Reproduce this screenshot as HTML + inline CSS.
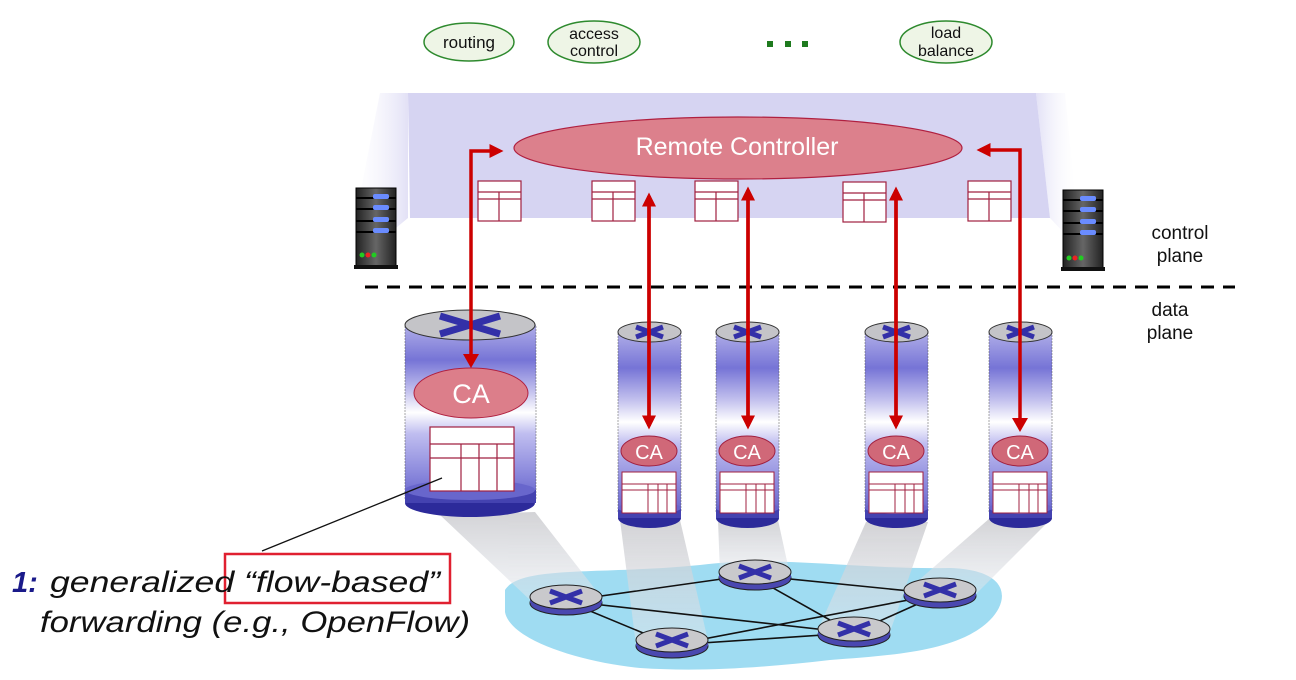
<!DOCTYPE html>
<html><head><meta charset="utf-8"><style>
html,body{margin:0;padding:0;background:#fff;}
svg{display:block;font-family:"Liberation Sans",Arial,sans-serif;}
</style></head><body>
<svg width="1296" height="680" viewBox="0 0 1296 680" xmlns="http://www.w3.org/2000/svg">
<defs>
<linearGradient id="cyl" x1="0" y1="0" x2="0" y2="1">
<stop offset="0" stop-color="#b0aee8"/>
<stop offset="0.2" stop-color="#7674d6"/>
<stop offset="0.38" stop-color="#c4c2ee"/>
<stop offset="0.5" stop-color="#ffffff"/>
<stop offset="0.62" stop-color="#c0bef0"/>
<stop offset="0.85" stop-color="#8a88dc"/>
<stop offset="1" stop-color="#6664cc"/>
</linearGradient>
<linearGradient id="fadeL" x1="1" y1="0" x2="0" y2="0">
<stop offset="0" stop-color="#d6d4f2"/>
<stop offset="1" stop-color="#ffffff" stop-opacity="0"/>
</linearGradient>
<linearGradient id="fadeR" x1="0" y1="0" x2="1" y2="0">
<stop offset="0" stop-color="#d6d4f2"/>
<stop offset="1" stop-color="#ffffff" stop-opacity="0"/>
</linearGradient>
<linearGradient id="beam" x1="0" y1="0" x2="0" y2="1">
<stop offset="0" stop-color="#c8c8cc"/>
<stop offset="1" stop-color="#e4e8ee" stop-opacity="0.6"/>
</linearGradient>
<linearGradient id="srv" x1="0" y1="0" x2="1" y2="0">
<stop offset="0" stop-color="#222"/>
<stop offset="0.5" stop-color="#666"/>
<stop offset="1" stop-color="#222"/>
</linearGradient>
<g id="disc">
<ellipse cx="0" cy="6" rx="36" ry="12" fill="#4a48b0" stroke="#222" stroke-width="1"/>
<rect x="-36" y="0" width="72" height="6" fill="#4a48b0"/>
<ellipse cx="0" cy="0" rx="36" ry="12" fill="#c9c9cc" stroke="#222" stroke-width="1"/>
<path d="M-16,-6 L16,6 M-16,6 L16,-6" stroke="#3330a8" stroke-width="5"/>
</g>
<g id="tab">
<rect x="0" y="0" width="43" height="40" fill="#fff" stroke="#a02040" stroke-width="1.2"/>
<path d="M0,11 H43 M0,18 H43 M21,11 V40" stroke="#a02040" stroke-width="1.2"/>
</g>
<marker id="ah" markerWidth="4" markerHeight="4" refX="3" refY="2" orient="auto" markerUnits="strokeWidth">
<path d="M0,0 L4,2 L0,4 z" fill="#cc0000"/>
</marker>
</defs>

<g fill="#eef5e6" stroke="#2e8a2e" stroke-width="1.5">
<ellipse cx="469" cy="42" rx="45" ry="19"/>
<ellipse cx="594" cy="42" rx="46" ry="21"/>
<ellipse cx="946" cy="42" rx="46" ry="21"/>
</g>
<g font-size="17" fill="#111" text-anchor="middle">
<text x="469" y="48">routing</text>
<text x="594" y="39" font-size="16">access</text>
<text x="594" y="56" font-size="16">control</text>
<text x="946" y="38" font-size="16">load</text>
<text x="946" y="56" font-size="16">balance</text>
</g>
<g fill="#1e7a1e"><rect x="767" y="41" width="6" height="6"/><rect x="785" y="41" width="6" height="6"/><rect x="802" y="41" width="6" height="6"/></g>

<polygon points="408,93 408,218 345,270 380,93" fill="url(#fadeL)" opacity="0.7"/>
<polygon points="1036,93 1050,218 1080,250 1065,93" fill="url(#fadeR)" opacity="0.7"/>
<polygon points="408,93 1036,93 1050,218 410,218" fill="#d6d4f2"/>

<g>
<rect x="356" y="188" width="40" height="78" fill="url(#srv)" stroke="#000"/>
<rect x="354" y="265" width="44" height="4" fill="#111"/>
<g fill="#000"><rect x="356" y="197" width="40" height="2"/><rect x="356" y="208" width="40" height="2"/><rect x="356" y="220" width="40" height="2"/><rect x="356" y="231" width="40" height="2"/></g>
<g fill="#6a8cff"><rect x="373" y="194" width="16" height="5" rx="2"/><rect x="373" y="205" width="16" height="5" rx="2"/><rect x="373" y="217" width="16" height="5" rx="2"/><rect x="373" y="228" width="16" height="5" rx="2"/></g>
<circle cx="362" cy="255" r="2.5" fill="#2c2"/><circle cx="368" cy="255" r="2.5" fill="#e22"/><circle cx="374" cy="255" r="2.5" fill="#2c2"/>
</g>
<g>
<rect x="1063" y="190" width="40" height="78" fill="url(#srv)" stroke="#000"/>
<rect x="1061" y="267" width="44" height="4" fill="#111"/>
<g fill="#000"><rect x="1063" y="199" width="40" height="2"/><rect x="1063" y="210" width="40" height="2"/><rect x="1063" y="222" width="40" height="2"/><rect x="1063" y="233" width="40" height="2"/></g>
<g fill="#6a8cff"><rect x="1080" y="196" width="16" height="5" rx="2"/><rect x="1080" y="207" width="16" height="5" rx="2"/><rect x="1080" y="219" width="16" height="5" rx="2"/><rect x="1080" y="230" width="16" height="5" rx="2"/></g>
<circle cx="1069" cy="258" r="2.5" fill="#2c2"/><circle cx="1075" cy="258" r="2.5" fill="#e22"/><circle cx="1081" cy="258" r="2.5" fill="#2c2"/>
</g>

<ellipse cx="738" cy="148" rx="224" ry="31" fill="#dc808c" stroke="#b02040" stroke-width="1.2"/>
<text x="737" y="155" font-size="25" fill="#fff" text-anchor="middle">Remote Controller</text>

<use href="#tab" x="478" y="181"/>
<use href="#tab" x="592" y="181"/>
<use href="#tab" x="695" y="181"/>
<use href="#tab" x="843" y="182"/>
<use href="#tab" x="968" y="181"/>

<text x="1180" y="239" font-size="19" fill="#111" text-anchor="middle">control</text>
<text x="1180" y="262" font-size="19" fill="#111" text-anchor="middle">plane</text>
<text x="1170" y="316" font-size="19" fill="#111" text-anchor="middle">data</text>
<text x="1170" y="339" font-size="19" fill="#111" text-anchor="middle">plane</text>
<line x1="365" y1="287" x2="1235" y2="287" stroke="#000" stroke-width="3" stroke-dasharray="13,9"/>

<path d="M505,590 C520,565 600,575 700,565 C780,555 860,570 950,568 C1010,570 1010,600 990,620 C960,650 900,655 830,660 C760,668 700,672 640,668 C580,662 510,640 505,612 Z" fill="#9fdcf2"/>

<g fill="url(#beam)" opacity="0.8">
<polygon points="440,515 535,512 602,598 530,600"/>
<polygon points="620,520 680,520 709,645 636,645"/>
<polygon points="718,520 778,520 790,575 720,575"/>
<polygon points="866,522 928,522 890,632 817,632"/>
<polygon points="990,518 1052,518 976,594 903,594"/>
</g>

<g stroke="#111" stroke-width="1.6">
<line x1="566" y1="601" x2="750" y2="575"/>
<line x1="566" y1="601" x2="672" y2="645"/>
<line x1="566" y1="601" x2="853" y2="633"/>
<line x1="750" y1="575" x2="940" y2="594"/>
<line x1="750" y1="575" x2="853" y2="633"/>
<line x1="672" y1="645" x2="940" y2="594"/>
<line x1="672" y1="645" x2="853" y2="633"/>
<line x1="853" y1="633" x2="940" y2="594"/>
</g>
<use href="#disc" x="566" y="597"/>
<use href="#disc" x="755" y="572"/>
<use href="#disc" x="672" y="640"/>
<use href="#disc" x="854" y="629"/>
<use href="#disc" x="940" y="590"/>

<g>
<rect x="405" y="325" width="131" height="175" fill="url(#cyl)" stroke="#555" stroke-width="0.5" stroke-dasharray="2,1"/>
<ellipse cx="470" cy="503" rx="65" ry="14" fill="#2c2a9a"/>
<rect x="405" y="490" width="131" height="13" fill="#4442b0"/>
<ellipse cx="470" cy="490" rx="65" ry="10" fill="#6866cc"/>
<ellipse cx="470" cy="325" rx="65" ry="15" fill="#c4c4c8" stroke="#333"/>
<path d="M440,316 L500,334 M440,334 L500,316" stroke="#3330a8" stroke-width="7"/>
<ellipse cx="471" cy="393" rx="57" ry="25" fill="#dc7e8a" stroke="#b02040"/>
<text x="471" y="403" font-size="27" fill="#fff" text-anchor="middle">CA</text>
<rect x="430" y="427" width="84" height="64" fill="#fff" stroke="#a02040" stroke-width="1.2"/>
<path d="M430,444 H514 M430,458 H514 M461,444 V491 M479,444 V491 M497,444 V491" stroke="#a02040" stroke-width="1.2"/>
</g>

<g id="sr1">
<rect x="618" y="332" width="63" height="180" fill="url(#cyl)" stroke="#555" stroke-width="0.5" stroke-dasharray="2,1"/>
<ellipse cx="649.5" cy="518" rx="31.5" ry="10" fill="#2c2a9a"/>
<rect x="618" y="508" width="63" height="10" fill="#4442b0"/>
<ellipse cx="649.5" cy="508" rx="31.5" ry="6" fill="#6866cc"/>
<ellipse cx="649.5" cy="332" rx="31.5" ry="10" fill="#c4c4c8" stroke="#333"/>
<path d="M636,327 L663,337 M636,337 L663,327" stroke="#3330a8" stroke-width="5"/>
<ellipse cx="649" cy="451" rx="28" ry="15" fill="#d06878" stroke="#a02040"/>
<text x="649" y="459" font-size="20" fill="#fff" text-anchor="middle">CA</text>
<rect x="622" y="472" width="54" height="41" fill="#fff" stroke="#a02040"/>
<path d="M622,484 H676 M622,490 H676 M648,484 V513 M658,484 V513 M667,484 V513" stroke="#a02040"/>
</g>
<use href="#sr1" x="98"/>
<use href="#sr1" x="247"/>
<use href="#sr1" x="371"/>

<g stroke="#cc0000" stroke-width="3.5" fill="none">
<polyline points="471,356 471,151 500,151" marker-end="url(#ah)"/>
<polyline points="1020,420 1020,150 980,150" marker-end="url(#ah)"/>
<line x1="649" y1="200" x2="649" y2="426" marker-end="url(#ah)"/>
<line x1="649" y1="426" x2="649" y2="196" marker-end="url(#ah)"/>
<line x1="748" y1="194" x2="748" y2="426" marker-end="url(#ah)"/>
<line x1="748" y1="426" x2="748" y2="190" marker-end="url(#ah)"/>
<line x1="896" y1="196" x2="896" y2="426" marker-end="url(#ah)"/>
<line x1="896" y1="426" x2="896" y2="190" marker-end="url(#ah)"/>
</g>
<polygon points="463,354 479,354 471,368" fill="#cc0000"/>
<polygon points="1012,418 1028,418 1020,432" fill="#cc0000"/>

<line x1="262" y1="551" x2="442" y2="478" stroke="#111" stroke-width="1.3"/>
<rect x="225" y="554" width="225" height="49" fill="#fff" stroke="#e02030" stroke-width="2.5"/>
<text x="12" y="592" font-size="29" font-weight="bold" font-style="italic" fill="#1a1a8a">1:</text>
<text x="50" y="592" font-size="30" font-style="italic" fill="#111" textLength="390" lengthAdjust="spacingAndGlyphs">generalized “flow-based”</text>
<text x="40" y="632" font-size="30" font-style="italic" fill="#111" textLength="430" lengthAdjust="spacingAndGlyphs">forwarding (e.g., OpenFlow)</text>
</svg>
</body></html>
